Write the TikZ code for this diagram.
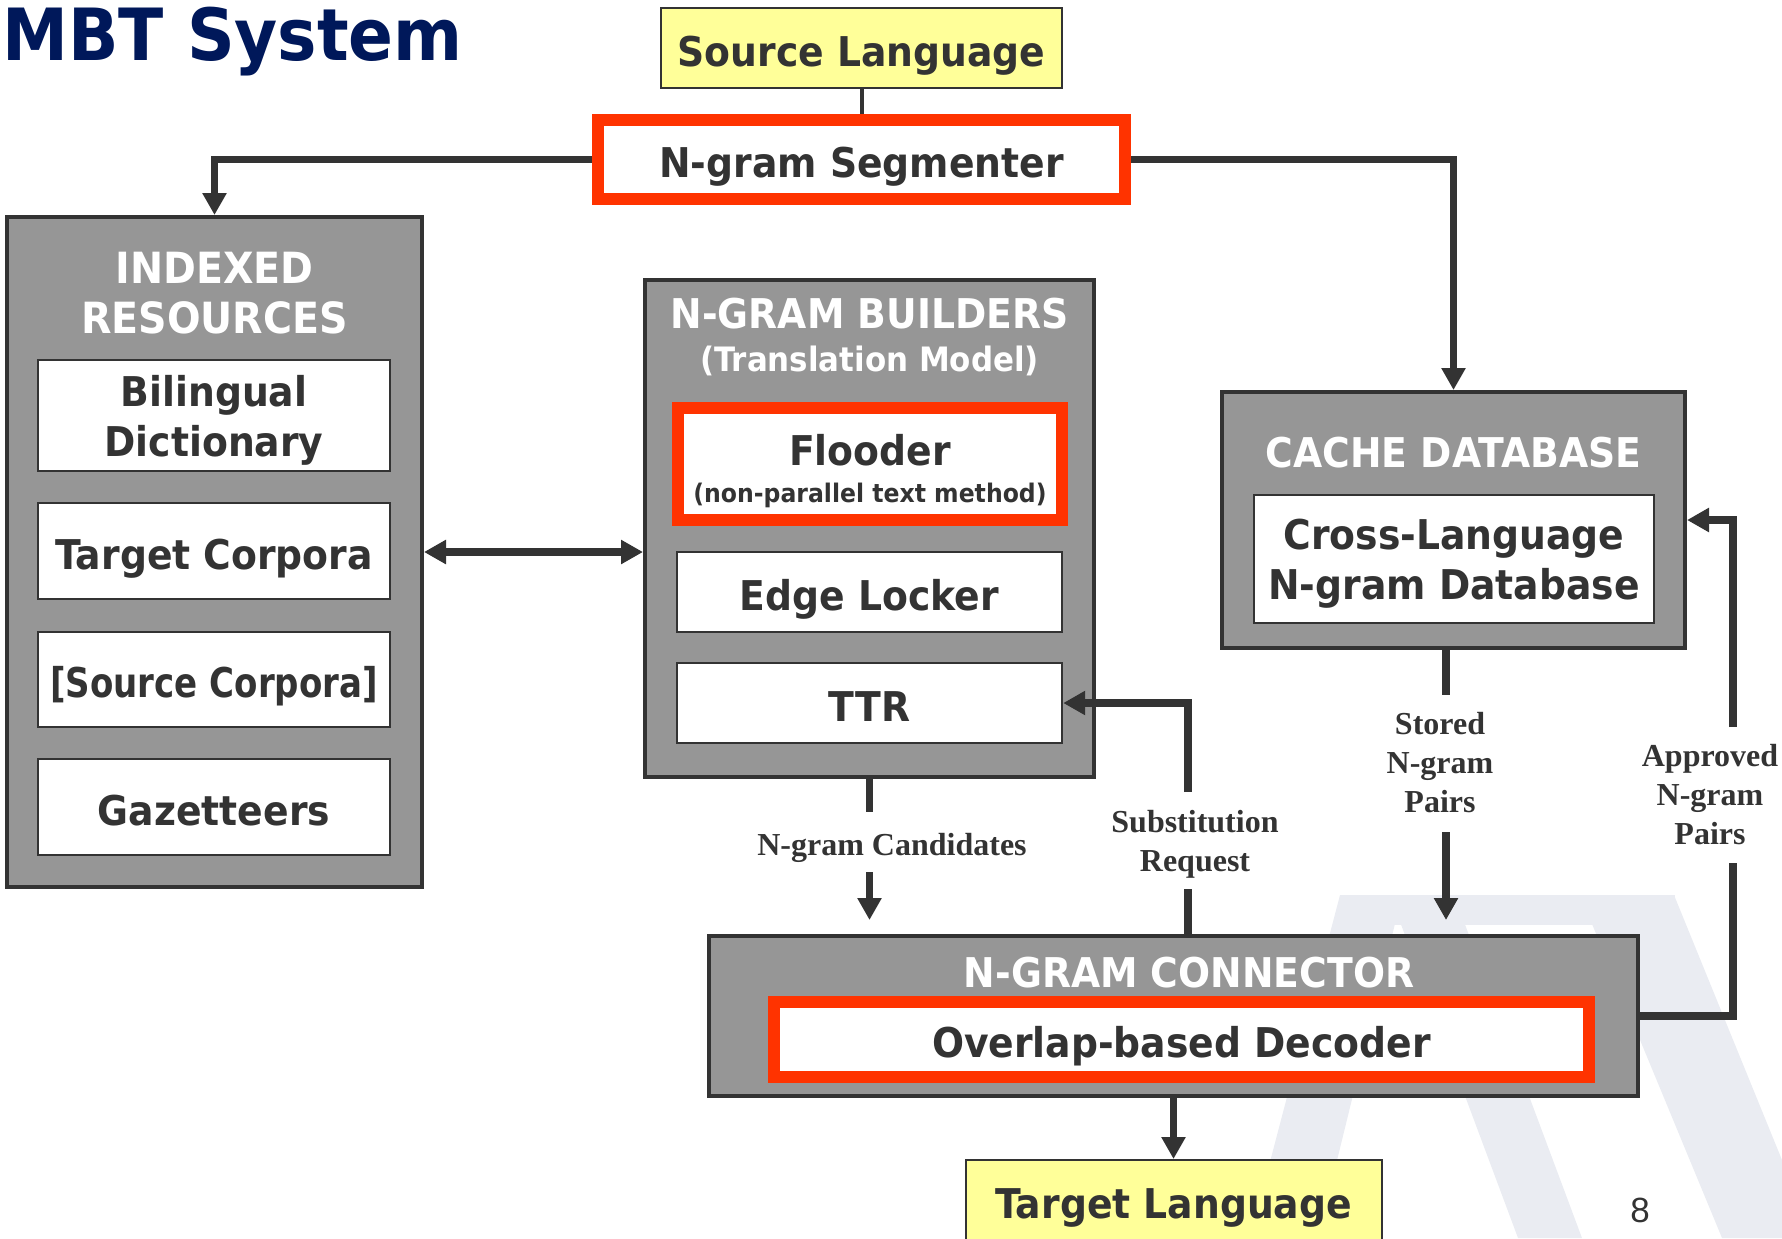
\documentclass[tikz,border=0pt]{standalone}
\usepackage{fontspec}
\setmainfont{DejaVu Sans}[FakeStretch=0.92]
\newfontfamily\narrowfont{DejaVu Sans}[FakeStretch=0.83]
\newfontfamily\labelfont{Liberation Serif}
\newfontfamily\pagefont{Liberation Sans}
\usetikzlibrary{arrows.meta}

\definecolor{ngred}{HTML}{FF3300}
\definecolor{panelgray}{HTML}{969696}
\definecolor{edgegray}{HTML}{333333}
\definecolor{inkgray}{HTML}{333333}
\definecolor{srcyellow}{HTML}{FFFF99}
\definecolor{titlenavy}{HTML}{00185A}
\definecolor{wmark}{HTML}{EAECF2}

\begin{document}
\begin{tikzpicture}[
  x=0.5pt, y=-0.5pt,
  boxfont/.style={font=\fontsize{20.5}{25}\selectfont\bfseries, text=inkgray},
  oneline/.style={text height=18pt, text depth=0pt},
  twoline/.style={text depth=0pt},
  srcbox/.style={boxfont, oneline, draw=edgegray, line width=1pt, fill=srcyellow,
    minimum width=200.5pt, minimum height=40pt, inner sep=0pt},
  redbox/.style={boxfont, oneline, draw=ngred, line width=6pt, fill=white, inner sep=0pt},
  panel/.style={draw=edgegray, line width=2pt, fill=panelgray, inner sep=0pt},
  paneltitle/.style={font=\fontsize{20.5}{25}\selectfont\bfseries, text=white, inner sep=0pt, align=center},
  itembox/.style={boxfont, draw=edgegray, line width=1.2pt, fill=white, inner sep=0pt, align=center},
  flowlabel/.style={font=\labelfont\bfseries\fontsize{16}{19.5}\selectfont, text=inkgray,
    inner sep=0pt, align=center},
  flow/.style={draw=edgegray, line width=3.75pt},
  flowarrow/.style={flow, -{Triangle[length=11pt,width=11.5pt]}},
  flowboth/.style={flow, {Triangle[length=11pt,width=11.5pt]}-{Triangle[length=11pt,width=11.5pt]}},
  logo/.style={fill=wmark}
]
\useasboundingbox (0,0) rectangle (1782,1238);

% faint logo in the background
\fill[logo] (1340,895) rectangle (1675,925);
\fill[logo] (1340,895) -- (1402,895) -- (1318,1238) -- (1250,1238) -- cycle;
\fill[logo] (1390,895) -- (1454,895) -- (1582,1238) -- (1518,1238) -- cycle;
\fill[logo] (1580,895) -- (1674,895) -- (1782,1160) -- (1782,1238) -- (1722,1238) -- cycle;

% title and page number
\node[anchor=base west, inner sep=0pt, text=titlenavy, font=\fontsize{36}{40}\selectfont\bfseries] (title) at (2,60) {MBT System};
\node[anchor=base, inner sep=0pt, text=inkgray, font=\pagefont\fontsize{17.5}{20}\selectfont] (pagenum) at (1640,1222) {8};

% input side
\node[srcbox] (src) at (861.5,48) {Source Language};
\node[redbox, minimum width=263.5pt, minimum height=39.5pt] (seg) at (861.5,159.5) {N-gram Segmenter};

% indexed resources
\node[panel, minimum width=207.5pt, minimum height=335pt] (idx) at (214.5,552) {};
\node[paneltitle, font=\fontsize{21.5}{25}\selectfont\bfseries] (idxtitle) at (214.5,293.5) {INDEXED\\RESOURCES};
\node[itembox, twoline, minimum width=176pt, minimum height=55.5pt] (dict) at (214,415.5) {Bilingual\\Dictionary};
\node[itembox, oneline, minimum width=176pt, minimum height=48pt] (tgtcorp) at (214,551) {Target Corpora};
\node[itembox, oneline, minimum width=176pt, minimum height=47.5pt, font=\narrowfont\fontsize{20.5}{25}\selectfont\bfseries] (srccorp) at (214,679.5) {[Source Corpora]};
\node[itembox, oneline, minimum width=176pt, minimum height=48pt] (gaz) at (214,807) {Gazetteers};

% n-gram builders
\node[panel, minimum width=224.5pt, minimum height=248.5pt] (bld) at (869.5,528.5) {};
\node[paneltitle, anchor=base] (bldtitle) at (869.5,328) {N-GRAM BUILDERS};
\node[paneltitle, anchor=base, font=\fontsize{16.8}{20}\selectfont\bfseries] (bldsub) at (869.5,371) {(Translation Model)};
\node[redbox, minimum width=192pt, minimum height=56pt] (flood) at (870,464) {};
\node[boxfont, anchor=base, inner sep=0pt] (floodname) at (870,465) {Flooder};
\node[boxfont, anchor=base, inner sep=0pt, font=\fontsize{12.8}{15}\selectfont\bfseries] (floodnote) at (870,502) {(non-parallel text method)};
\node[itembox, oneline, minimum width=192.5pt, minimum height=40pt] (edge) at (869.5,592) {Edge Locker};
\node[itembox, oneline, minimum width=192.5pt, minimum height=40pt] (ttr) at (869.5,703) {TTR};

% cache database
\node[panel, minimum width=231.5pt, minimum height=128pt] (cache) at (1453.5,520) {};
\node[paneltitle, anchor=base] (cachetitle) at (1453.5,467) {CACHE DATABASE};
\node[itembox, twoline, minimum width=200pt, minimum height=64pt] (xlang) at (1454,559) {Cross-Language\\N-gram Database};

% n-gram connector
\node[panel, minimum width=464.5pt, minimum height=80pt] (con) at (1173.5,1016) {};
\node[paneltitle, anchor=base] (contitle) at (1189,987) {N-GRAM CONNECTOR};
\node[redbox, minimum width=407.5pt, minimum height=37.5pt] (dec) at (1181.5,1039.5) {Overlap-based Decoder};

% output side
\node[srcbox, minimum width=208pt] (tgt) at (1173.5,1200) {Target Language};

% labels on the flows
\node[flowlabel, anchor=base] (candlbl) at (892,855) {N-gram Candidates};
\node[flowlabel] (sublbl) at (1195,844) {Substitution\\Request};
\node[flowlabel] (storlbl) at (1440,763) {Stored\\N-gram\\Pairs};
\node[flowlabel] (apprlbl) at (1710,795) {Approved\\N-gram\\Pairs};

% free ends of the broken flows
\coordinate (candA) at (869.5,812);
\coordinate (candB) at (869.5,872);
\coordinate (candC) at (869.5,920);
\coordinate (storA) at (1446,695);
\coordinate (storB) at (1446,832);
\coordinate (storC) at (1446,920);
\coordinate (subA) at (1188,792);
\coordinate (subB) at (1188,889);
\coordinate (apprA) at (1733,727);
\coordinate (apprB) at (1733,863);

% flows
\draw[draw=edgegray, line width=2pt] (src) -- (seg);
\draw[flowarrow] (seg.west) -| (idx.north);
\draw[flowarrow] (seg.east) -| (cache.north);
\draw[flowboth] (idx.east) -- (idx.east -| bld.west);
\draw[flow] (bld.south) -- (candA);
\draw[flowarrow] (candB) -- (candC);
\draw[flow] (storA |- cache.south) -- (storA);
\draw[flowarrow] (storB) -- (storC);
\draw[flowarrow] (subA) |- (ttr.east);
\draw[flow] (subB) -- (subB |- con.north);
\draw[flowarrow] (apprA) |- (cache.east);
\draw[flow] (apprB) |- (con.east);
\draw[flowarrow] (con.south) -- (tgt.north);

\end{tikzpicture}
\end{document}
